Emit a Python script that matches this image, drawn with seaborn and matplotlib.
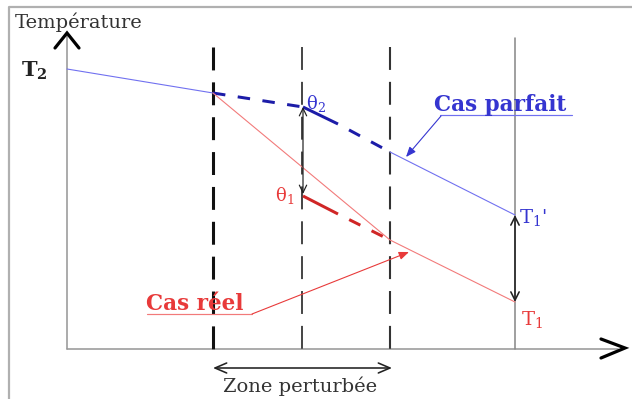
import matplotlib
matplotlib.use("Agg")
import matplotlib.pyplot as plt
import seaborn as sns

sns.set_theme(style="white")
plt.rcParams['font.family'] = ['DejaVu Serif']
plt.rcParams['mathtext.fontset'] = 'dejavuserif'
plt.rcParams['lines.scale_dashes'] = False

# ---- schematic data (image coordinates, y grows downward) ----
zone_x = [213, 302, 390]          # boundaries of the disturbed zone
zone_lw = [2.2, 1.4, 1.5]
zone_col = ['#111111', '#444444', '#333333']
end_x = 515                        # measurement position (T1 / T1')

parfait_x = [67, 213]              # Cas parfait, upstream
parfait_y = [69, 93]
parfait_out_x = [390, 515]         # Cas parfait, downstream
parfait_out_y = [152, 215]
parfait_dash_x = [213, 303]
parfait_dash_y = [93, 107]
parfait_thick_x = [303, 338]
parfait_thick_y = [107, 124]
parfait_dash2_x = [338, 390]
parfait_dash2_y = [124, 152]

reel_x = [213, 390, 515]           # Cas réel
reel_y = [93, 240, 302]
reel_thick_x = [303, 338]
reel_thick_y = [196, 214]
reel_dash_x = [338, 390]
reel_dash_y = [214, 240]

theta2_y, theta1_y = 107, 194
T1p_y, T1_y = 215, 302

BLUE_T = '#3535d0'
BLUE_L = '#7070f0'
BLUE_D = '#1c1ca8'
RED_T = '#e83a3a'
RED_L = '#f27a7a'
RED_D = '#d02626'
GRAY = '#999999'

fig = plt.figure(figsize=(6.32, 3.99), dpi=100)
ax = fig.add_axes([0, 0, 1, 1])
ax.set_xlim(0, 632)
ax.set_ylim(399, 0)
ax.axis('off')

def px(v):
    return v * 0.72

# frame
ax.plot([9, 9, 632], [399, 7, 7], color='#b0b0b0', lw=px(2.2))

# axes
ax.plot([67, 67], [349, 36], color=GRAY, lw=px(1.6))
ax.plot([67, 618], [349, 349], color=GRAY, lw=px(1.6))
ax.plot([55, 67, 79], [48, 33, 48], color='black', lw=px(3.2), solid_joinstyle='miter')
ax.plot([601, 625, 601], [339, 348, 358], color='black', lw=px(3.2), solid_joinstyle='miter')

# vertical dashed lines of the zone
for x, lw, c in zip(zone_x, zone_lw, zone_col):
    ax.plot([x, x], [47, 349], color=c, lw=lw, linestyle=(0, (16.5, 8.6)))
ax.plot([end_x, end_x], [38, 349], color='#8a8a8a', lw=px(1.6))

# Cas parfait
sns.lineplot(x=parfait_x, y=parfait_y, ax=ax, color=BLUE_L, lw=px(1.1), sort=False, estimator=None)
sns.lineplot(x=parfait_out_x, y=parfait_out_y, ax=ax, color=BLUE_L, lw=px(1.1), sort=False, estimator=None)
ax.plot(parfait_dash_x, parfait_dash_y, color=BLUE_D, lw=px(3), linestyle=(0, (9, 9)))
ax.plot(parfait_thick_x, parfait_thick_y, color=BLUE_D, lw=px(3), solid_capstyle='butt')
ax.plot(parfait_dash2_x, parfait_dash2_y, color=BLUE_D, lw=px(3), linestyle=(9, (9, 9)))

# Cas réel
sns.lineplot(x=reel_x, y=reel_y, ax=ax, color=RED_L, lw=px(1.1), sort=False, estimator=None)
ax.plot(reel_thick_x, reel_thick_y, color=RED_D, lw=px(3), solid_capstyle='butt')
ax.plot(reel_dash_x, reel_dash_y, color=RED_D, lw=px(3), linestyle=(9, (9, 9)))

# double arrows
arr = dict(arrowstyle='<->,head_length=0.45,head_width=0.22', color='#222222', lw=px(1.2),
           shrinkA=0, shrinkB=0)
ax.annotate('', xy=(zone_x[1] + 1, theta2_y), xytext=(zone_x[1] + 1, theta1_y), arrowprops=arr)
arr2 = dict(arrowstyle='<->,head_length=0.5,head_width=0.25', color='#222222', lw=px(1.6),
            shrinkA=0, shrinkB=0)
ax.annotate('', xy=(end_x, T1p_y), xytext=(end_x, T1_y), arrowprops=arr2)
arr3 = dict(arrowstyle='<->,head_length=0.7,head_width=0.3', color='#222222', lw=px(1.6),
            shrinkA=0, shrinkB=0)
ax.annotate('', xy=(zone_x[0], 368), xytext=(zone_x[2] + 2, 368), arrowprops=arr3)

# texts
ax.text(15, 28, 'Température', fontsize=14, color='#333333', va='baseline', ha='left')
ax.text(21, 77, r'T$_\mathbf{2}$', fontsize=15, color='#222222', va='baseline', ha='left', fontweight='bold')
ax.text(306, 109, r'θ$_2$', fontsize=13, color=BLUE_T, va='baseline', ha='left')
ax.text(275, 201, r'θ$_1$', fontsize=13, color=RED_T, va='baseline', ha='left')
ax.text(519, 223, r"T$_1$'", fontsize=14, color=BLUE_T, va='baseline', ha='left')
ax.text(521, 325, r'T$_1$', fontsize=14, color=RED_T, va='baseline', ha='left')
ax.text(434, 111, 'Cas parfait', fontsize=15.5, color=BLUE_T, va='baseline', ha='left',
        fontweight='bold')
ax.text(146, 310, 'Cas réel', fontsize=15.5, color=RED_T, va='baseline', ha='left',
        fontweight='bold')
ax.text(300, 392, 'Zone perturbée', fontsize=14, color='#333333', va='baseline', ha='center')

# leaders
ax.plot([440, 572], [115, 115], color=BLUE_L, lw=px(1.2))
ax.annotate('', xy=(406, 157), xytext=(441, 116),
            arrowprops=dict(arrowstyle='-|>,head_length=0.5,head_width=0.2', color=BLUE_T,
                            lw=px(1.1), shrinkA=0, shrinkB=0))
ax.plot([147, 252], [314, 314], color=RED_L, lw=px(1.2))
ax.annotate('', xy=(409, 252), xytext=(252, 314),
            arrowprops=dict(arrowstyle='-|>,head_length=0.5,head_width=0.2', color=RED_T,
                            lw=px(1.1), shrinkA=0, shrinkB=0))

fig.savefig('out.png', dpi=100, facecolor='white')
